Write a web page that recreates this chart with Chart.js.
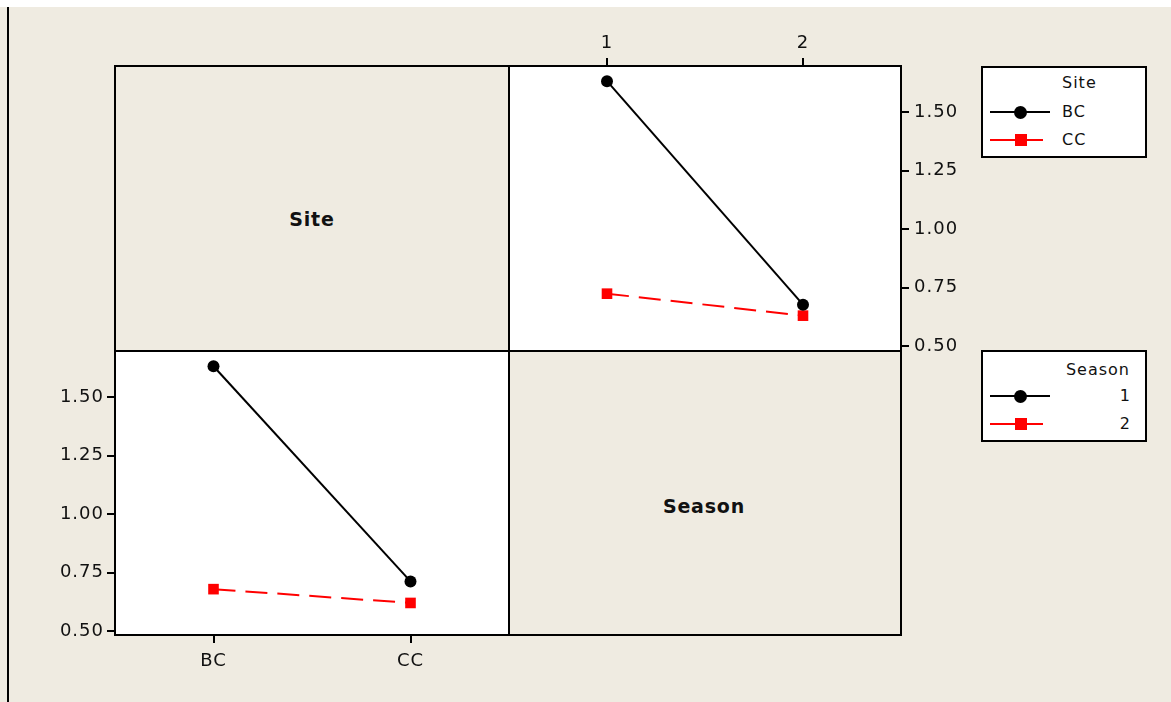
<!DOCTYPE html>
<html>
<head>
<meta charset="utf-8">
<script src="https://cdn.jsdelivr.net/npm/chart.js@4/dist/chart.umd.min.js"></script>
<style>
  body { margin:0; width:1171px; height:702px; background:#fff; position:relative; overflow:hidden;
         font-family:"DejaVu Sans", sans-serif; color:#111; }
  .bg { position:absolute; left:0; top:7px; width:1171px; height:695px; background:#EFEBE1; }
  .vline { position:absolute; left:7px; top:7px; width:2px; height:695px; background:#000; }
  .cell { position:absolute; box-sizing:border-box; border:2px solid #000; }
  .white { background:#fff; }
  .lab { position:absolute; font-weight:bold; font-size:19px; letter-spacing:0.8px; transform:translate(-50%,-50%); white-space:nowrap; }
  .leg { position:absolute; box-sizing:border-box; border:2px solid #000; background:#fff; width:166px; font-size:16px; letter-spacing:1px; }
  .leg div { position:absolute; white-space:nowrap; line-height:20px; }
  canvas { position:absolute; }
</style>
</head>
<body>
<div class="bg"></div>
<div class="vline"></div>

<div class="cell" style="left:114px;top:65px;width:396px;height:287px;"></div>
<div class="cell white" style="left:508px;top:65px;width:394px;height:287px;"></div>
<div class="cell white" style="left:114px;top:350px;width:396px;height:286px;"></div>
<div class="cell" style="left:508px;top:350px;width:394px;height:286px;"></div>

<div class="lab" id="labSite" style="left:312px;top:219px;"></div>
<div class="lab" id="labSeason" style="left:704px;top:506px;"></div>

<div class="leg" id="legSite" style="left:981px;top:66px;height:92px;"></div>
<div class="leg" id="legSeason" style="left:981px;top:350px;height:92px;"></div>

<canvas id="chartTop" width="472" height="331" style="left:509px;top:20px;"></canvas>
<canvas id="chartBottom" width="474" height="334" style="left:35px;top:351px;"></canvas>

<script>
// factor levels
const sites = ['BC', 'CC']
const seasons = ['1', '2']

// mean response, panel with Season on x, one line per Site
const siteBC = [1.632, 0.677]
const siteCC = [0.724, 0.630]

// mean response, panel with Site on x, one line per Season
const season1 = [1.632, 0.712]
const season2 = [0.679, 0.620]

const yTicks = [0.50, 0.75, 1.00, 1.25, 1.50]

const tickFont = { family: 'DejaVu Sans', size: 18 }

const spacing = {
  id: 'spacing',
  beforeDraw(chart) { chart.ctx.letterSpacing = '1px' }
}

function lineSet(label, data, black) {
  return {
    label: label,
    data: data,
    borderColor: black ? '#000' : '#ff0000',
    backgroundColor: black ? '#000' : '#ff0000',
    borderWidth: 2,
    borderDash: black ? [] : [22, 10],
    pointStyle: black ? 'circle' : 'rect',
    pointRadius: black ? 6 : 7.5,
    pointBorderWidth: 0,
    tension: 0,
    clip: false
  }
}

function axisGrid() {
  return { drawOnChartArea: false, drawTicks: true, tickLength: 8, color: '#000', lineWidth: 2, offset: false }
}

// fixed axis sizes so the plot areas land on the panel grid
function yAxis(pos, min, max, pad) {
  return {
    position: pos, min: min, max: max,
    afterBuildTicks: s => { s.ticks = yTicks.map(v => ({ value: v })) },
    afterFit: s => { s.width = 80; s.paddingTop = 0; s.paddingBottom = 0 },
    grid: axisGrid(),
    border: { display: false },
    ticks: { font: tickFont, color: '#111', padding: pad, callback: v => v.toFixed(2) }
  }
}

function xAxis(pos, h, pad) {
  return {
    type: 'category', position: pos, offset: true,
    afterFit: s => { s.height = h; s.paddingLeft = 0; s.paddingRight = 0 },
    grid: axisGrid(),
    border: { display: false },
    ticks: { font: tickFont, color: '#111', padding: pad }
  }
}

const common = {
  responsive: false,
  animation: false,
  layout: { padding: 0, autoPadding: false },
  plugins: { legend: { display: false }, tooltip: { enabled: false } }
}

new Chart(document.getElementById('chartTop'), {
  type: 'line',
  data: {
    labels: seasons,
    datasets: [lineSet('BC', siteBC, true), lineSet('CC', siteCC, false)]
  },
  options: Object.assign({}, common, {
    scales: { x: xAxis('top', 46, 4), y: yAxis('right', 0.479, 1.697, 5) }
  }),
  plugins: [spacing]
})

new Chart(document.getElementById('chartBottom'), {
  type: 'line',
  data: {
    labels: sites,
    datasets: [lineSet('1', season1, true), lineSet('2', season2, false)]
  },
  options: Object.assign({}, common, {
    scales: { x: xAxis('bottom', 50, 8), y: yAxis('left', 0.483, 1.697, 3) }
  }),
  plugins: [spacing]
})

// panel labels
document.getElementById('labSite').textContent = 'Site'
document.getElementById('labSeason').textContent = 'Season'

// legends
function marker(black, top) {
  let html = '<div style="left:7px;top:' + (top - 1) + 'px;width:' + (black ? 60 : 53) + 'px;height:2px;background:' + (black ? '#000' : '#f00') + ';"></div>'
  if (black) html += '<div style="left:31px;top:' + (top - 6.5) + 'px;width:13px;height:13px;border-radius:50%;background:#000;"></div>'
  else html += '<div style="left:32px;top:' + (top - 6) + 'px;width:12px;height:12px;background:#f00;"></div>'
  return html
}

function legend(id, title, names, rightAlign) {
  const box = document.getElementById(id)
  const rows = [44, 72]
  let html
  if (rightAlign) html = '<div style="right:15px;top:' + (18 - 10) + 'px;">' + title + '</div>'
  else html = '<div style="left:79px;top:' + (15 - 10) + 'px;">' + title + '</div>'
  names.forEach((n, i) => {
    html += marker(i === 0, rows[i])
    if (rightAlign) html += '<div style="right:14px;top:' + (rows[i] - 10) + 'px;">' + n + '</div>'
    else html += '<div style="left:79px;top:' + (rows[i] - 10) + 'px;">' + n + '</div>'
  })
  box.innerHTML = html
}

legend('legSite', 'Site', sites, false)
legend('legSeason', 'Season', seasons, true)
</script>
</body>
</html>
